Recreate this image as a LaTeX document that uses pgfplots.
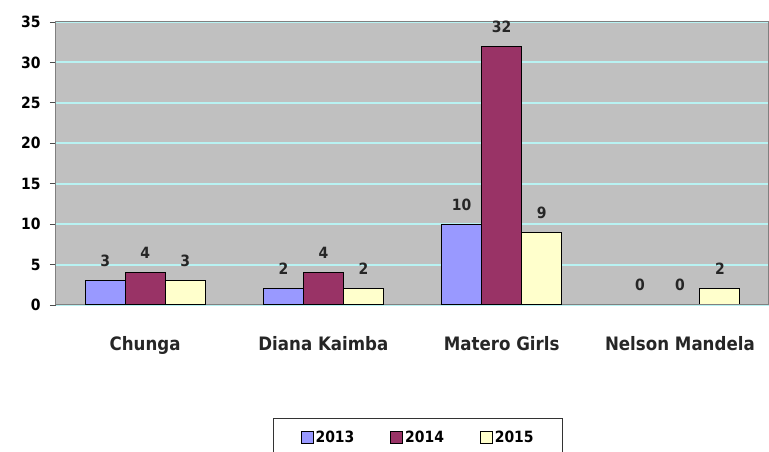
\documentclass[border=0pt]{standalone}
\usepackage{fontspec}
\setmainfont{DejaVu Sans Condensed}
\usepackage{pgfplots}
\pgfplotsset{compat=1.18}
\definecolor{cA}{HTML}{9999FF}
\definecolor{cB}{HTML}{993366}
\definecolor{cC}{HTML}{FFFFCC}
\definecolor{bgc}{HTML}{C0C0C0}
\definecolor{gridc}{HTML}{B8F2F2}
\begin{document}
\begin{tikzpicture}[x=1pt,y=1pt]
\useasboundingbox (-56,-147) rectangle (713,305);
\begin{axis}[
  at={(0,0)}, anchor=south west,
  scale only axis, width=713pt, height=283pt,
  ybar, bar width=40pt,
  xmin=-0.5, xmax=3.5, ymin=0, ymax=35,
  ytick={0,5,...,35},
  xtick={0,1,2,3},
  xticklabels={Chunga,Diana Kaimba,Matero Girls,Nelson Mandela},
  x tick style={draw=none},
  extra x ticks={-0.5,0.5,1.5,2.5},
  extra x tick labels={},
  extra x tick style={major tick length=8pt, tick align=outside, tick style={draw=gray, line width=0.8pt}, grid=none},
  xtick pos=bottom, ytick pos=left,
  tick align=outside, major tick length=6pt,
  y tick style={draw=gray!60!black, line width=0.8pt},
  ymajorgrids, grid style={draw=gridc, line width=2pt},
  axis line style={draw=gray, line width=1pt},
  axis background/.style={fill=bgc},
  /pgf/number format/assume math mode=true,
  yticklabel style={font=\fontsize{15.5}{18}\selectfont\bfseries, xshift=-6pt},
  xticklabel style={font=\fontsize{18.5}{21}\selectfont\bfseries, yshift=-22pt, text=black!85},
  nodes near coords,
  every node near coord/.append style={font=\fontsize{15.5}{18}\selectfont\bfseries, yshift=10pt, text=black!85},
  legend style={at={(0.508,-0.4)}, anchor=north, legend columns=3, draw=black!80, line width=1pt,
     font=\fontsize{15.5}{18}\selectfont\bfseries, inner xsep=27pt, inner ysep=10pt,
     /tikz/every even column/.append style={column sep=34pt}},
  legend image code/.code={\draw[#1, line width=0.8pt] (0pt,-6pt) rectangle (12pt,6pt);},
]
\addplot[fill=cA, draw=black, line width=1pt, bar shift=-40pt] coordinates {(0,3) (1,2) (2,10) (3,0)};
\addplot[fill=cB, draw=black, line width=1pt, bar shift=0pt] coordinates {(0,4) (1,4) (2,32) (3,0)};
\addplot[fill=cC, draw=black, line width=1pt, bar shift=40pt] coordinates {(0,3) (1,2) (2,9) (3,2)};
\legend{2013,2014,2015}
\draw[gray, line width=1pt] (rel axis cs:0.75,0) -- (rel axis cs:1,0);
\end{axis}
\end{tikzpicture}
\end{document}
